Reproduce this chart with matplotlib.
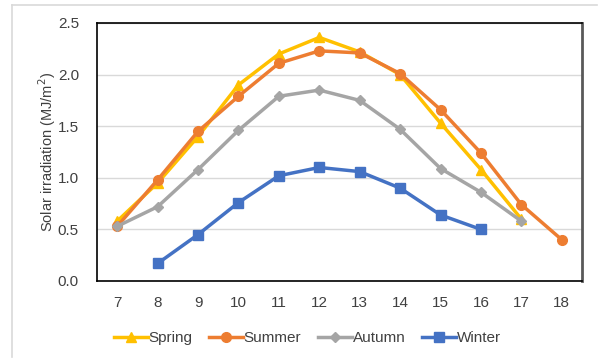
import matplotlib
matplotlib.use("Agg")
import matplotlib.pyplot as plt
from matplotlib.lines import Line2D

plt.rcParams["font.family"] = ["Liberation Sans", "DejaVu Sans"]

hours = [7, 8, 9, 10, 11, 12, 13, 14, 15, 16, 17, 18]

spring_hours = [7, 8, 9, 10, 11, 12, 13, 14, 15, 16, 17]
spring = [0.58, 0.95, 1.40, 1.90, 2.20, 2.36, 2.22, 2.00, 1.53, 1.08, 0.60]

summer_hours = [7, 8, 9, 10, 11, 12, 13, 14, 15, 16, 17, 18]
summer = [0.53, 0.98, 1.45, 1.79, 2.11, 2.23, 2.21, 2.01, 1.66, 1.24, 0.74, 0.40]

autumn_hours = [7, 8, 9, 10, 11, 12, 13, 14, 15, 16, 17]
autumn = [0.53, 0.72, 1.08, 1.46, 1.79, 1.85, 1.75, 1.47, 1.09, 0.86, 0.58]

winter_hours = [8, 9, 10, 11, 12, 13, 14, 15, 16]
winter = [0.17, 0.45, 0.76, 1.02, 1.10, 1.06, 0.90, 0.64, 0.50]

series = [
    ("Spring", spring_hours, spring, "#FFC000", "^", 7),
    ("Summer", summer_hours, summer, "#ED7D31", "o", 7),
    ("Autumn", autumn_hours, autumn, "#A5A5A5", "D", 5),
    ("Winter", winter_hours, winter, "#4472C4", "s", 7),
]

fig = plt.figure(figsize=(5.98, 3.58), dpi=100)
ax = fig.add_axes([97 / 598, 1 - 281 / 358, 485 / 598, 258 / 358])

for name, x, y, color, marker, ms in series:
    ax.plot(x, y, color=color, lw=2.5, marker=marker, ms=ms, label=name,
            solid_joinstyle="round")

ax.set_xlim(6.5, 18.5)
ax.set_ylim(0, 2.5)
ax.set_xticks(hours)
ax.set_yticks([0.0, 0.5, 1.0, 1.5, 2.0, 2.5])
ax.set_yticklabels([f"{v:.1f}" for v in [0.0, 0.5, 1.0, 1.5, 2.0, 2.5]])
ax.tick_params(length=0, labelsize=11, colors="#404040")
ax.tick_params(axis="y", pad=13)
ax.tick_params(axis="x", pad=11)
ax.yaxis.grid(True, color="#D9D9D9", lw=1)
ax.set_axisbelow(True)
for side in ["left", "bottom", "top"]:
    ax.spines[side].set_color("black")
    ax.spines[side].set_linewidth(1.2)
ax.spines["right"].set_color("#595959")
ax.spines["right"].set_linewidth(2)

ax.set_ylabel("Solar irradiation (MJ/m$^2$)", fontsize=10.5, color="#404040", labelpad=0)

ax.legend(loc="upper center", bbox_to_anchor=(0.434, -0.14), ncol=4, frameon=False,
          fontsize=11, handlelength=2.2, handletextpad=0.05, columnspacing=1.1,
          labelcolor="#404040")

# light frame around the chart area
fig.add_artist(Line2D([12 / 598, 597 / 598], [1 - 5 / 358, 1 - 5 / 358],
                      color="#D9D9D9", lw=1.2, transform=fig.transFigure))
fig.add_artist(Line2D([12 / 598, 12 / 598], [1 - 5 / 358, 1 - 357 / 358],
                      color="#D9D9D9", lw=1.2, transform=fig.transFigure))

fig.savefig("out.png", dpi=100)
